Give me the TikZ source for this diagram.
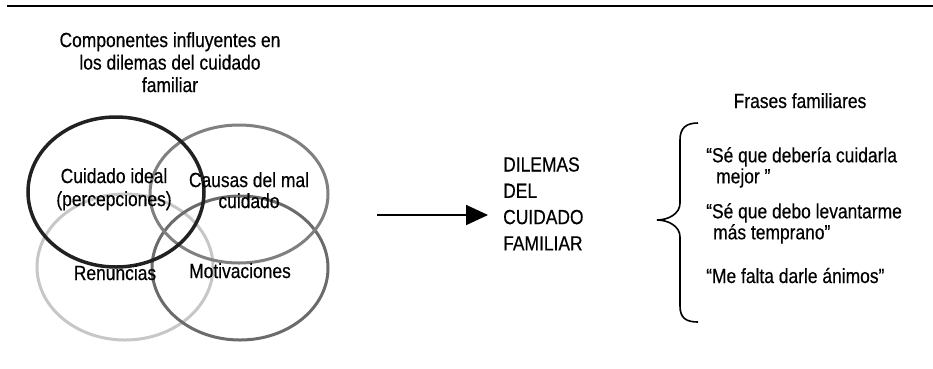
\documentclass[tikz,border=0pt]{standalone}
\usepackage{fontspec}
\setmainfont[FakeStretch=0.85, FakeBold=0.4]{Liberation Sans}
\usetikzlibrary{positioning,shapes.geometric,arrows.meta}

\begin{document}
\begin{tikzpicture}[x=1pt, y=-1pt, font=\fontsize{20.5}{22.5}\selectfont,
        ring/.style={ellipse, draw, line width=3pt, minimum width=176pt, minimum height=146pt, inner sep=0pt},
        lbl/.style={anchor=north, inner sep=0pt, align=center},
        frase/.style={anchor=north west, inner sep=0pt, align=left, font=\fontsize{20.5}{21}\selectfont}]
            \useasboundingbox (0,0) rectangle (933,368);
            \draw[line width=2.5pt] (7,6) -- (933,6);
            \node[lbl] (titulo) at (170,32) {Componentes influyentes en\\los dilemas del cuidado\\familiar};
            \node[ring, draw=black!22] (renuncias) at (125,267) {};
            \node[ring, draw=black!58, minimum height=144pt] (motivaciones) at (240,268) {};
            \node[ring, draw=black!50, minimum width=178pt, minimum height=138pt] (causas) at (239,194) {};
            \node[ring, draw=black!87, line width=3.5pt, minimum height=150pt] (ideal) at (116,192) {};
            \node[lbl, font=\fontsize{20.5}{23}\selectfont] (ideal-txt) at (114,168) {Cuidado ideal\\(percepciones)};
            \node[lbl, font=\fontsize{20.5}{21}\selectfont] (causas-txt) at (249,172) {Causas del mal\\cuidado};
            \node[anchor=base, inner sep=0pt] (renuncias-txt) at (115,280) {Renuncias};
            \node[anchor=base, inner sep=0pt] (motivaciones-txt) at (240,278) {Motivaciones};
            \node[anchor=north west, inner sep=0pt, align=left, font=\fontsize{20.5}{26.3}\selectfont] (dilemas) at (503,157) {DILEMAS\\DEL\\CUIDADO\\FAMILIAR};
            \coordinate (inicio) at (377,215);
            \draw[-{Triangle[length=22pt,width=20pt]}, line width=1.8pt, shorten >=15pt] (inicio) -- (inicio -| dilemas.west);
            \draw[line width=1.6pt] (698,123) .. controls (686,123) and (680,128) .. (680,140) -- (680,203)
                .. controls (680,214) and (668,220) .. (657,220) .. controls (668,220) and (680,226) .. (680,237)
                -- (680,306) .. controls (680,318) and (686,322) .. (698,322);
            \node[anchor=base, inner sep=0pt] (frases) at (800,108) {Frases familiares};
            \node[frase] (frase1) at (706,147) {“Sé que debería cuidarla\\\hspace*{10pt}mejor ”};
            \node[frase] (frase2) at (706,203) {“Sé que debo levantarme\\\hspace*{7pt}más temprano”};
            \node[anchor=base west, inner sep=0pt] (frase3) at (706,283) {“Me falta darle ánimos”};
        \end{tikzpicture}
\end{document}
